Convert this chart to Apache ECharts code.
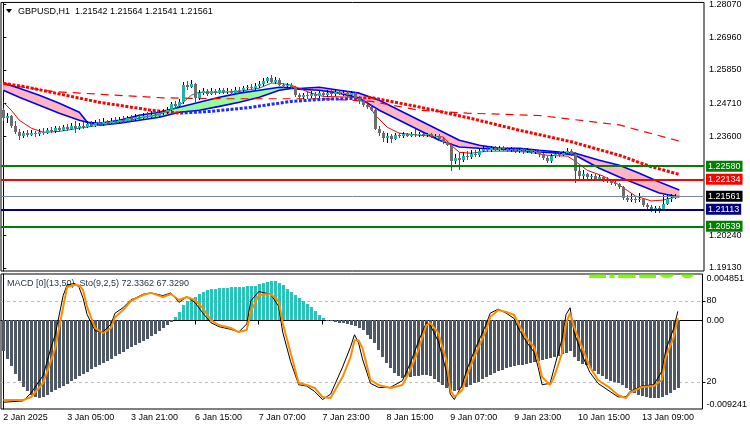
<!DOCTYPE html>
<html>
<head>
<meta charset="utf-8">
<script src="https://cdn.jsdelivr.net/npm/echarts@6/dist/echarts.min.js"></script>
<style>
  html, body { margin: 0; padding: 0; background: #fff; }
  #chart { width: 750px; height: 430px; }
</style>
</head>
<body>
<div id="chart"></div>
<script>
// ---- data ----
const timeLabels = ['2 Jan 2025', '3 Jan 05:00', '3 Jan 21:00', '6 Jan 15:00', '7 Jan 07:00', '7 Jan 23:00',
  '8 Jan 15:00', '9 Jan 07:00', '9 Jan 23:00', '10 Jan 15:00', '13 Jan 09:00']
const tickBars = [0, 16, 32, 48, 64, 80, 96, 112, 128, 144, 160]
const priceTicks = [1.28070, 1.26960, 1.25850, 1.24710, 1.23600, 1.20240, 1.19130]
const macdTicks = [-0.009241, 0, 0.004851]
const stochLevels = [20, 80]

// OHLC per hourly bar
const candles = [
  [1.2448, 1.2455, 1.2410, 1.2420], [1.2420, 1.2440, 1.2405, 1.2428], [1.2428, 1.2432, 1.2388, 1.2395], [1.2395, 1.2410, 1.2368, 1.2375],
  [1.2375, 1.2385, 1.2346, 1.2362], [1.2362, 1.2378, 1.2355, 1.2370], [1.2370, 1.2380, 1.2358, 1.2365], [1.2365, 1.2382, 1.2360, 1.2372],
  [1.2372, 1.2378, 1.2358, 1.2366], [1.2366, 1.2384, 1.2360, 1.2374], [1.2374, 1.2386, 1.2364, 1.2370], [1.2370, 1.2388, 1.2366, 1.2380],
  [1.2380, 1.2392, 1.2370, 1.2376], [1.2376, 1.2395, 1.2372, 1.2386], [1.2386, 1.2396, 1.2374, 1.2382], [1.2382, 1.2398, 1.2378, 1.2390],
  [1.2390, 1.2400, 1.2376, 1.2385], [1.2385, 1.2406, 1.2380, 1.2394], [1.2394, 1.2410, 1.2372, 1.2388], [1.2388, 1.2404, 1.2382, 1.2396],
  [1.2396, 1.2408, 1.2384, 1.2392], [1.2392, 1.2410, 1.2388, 1.2400], [1.2400, 1.2412, 1.2390, 1.2396], [1.2396, 1.2414, 1.2392, 1.2404],
  [1.2404, 1.2418, 1.2394, 1.2400], [1.2400, 1.2420, 1.2396, 1.2408], [1.2408, 1.2416, 1.2398, 1.2404], [1.2404, 1.2422, 1.2400, 1.2412],
  [1.2412, 1.2424, 1.2402, 1.2408], [1.2408, 1.2426, 1.2404, 1.2416], [1.2416, 1.2428, 1.2406, 1.2412], [1.2412, 1.2430, 1.2408, 1.2420],
  [1.2420, 1.2432, 1.2410, 1.2417], [1.2417, 1.2434, 1.2412, 1.2424], [1.2424, 1.2436, 1.2414, 1.2420], [1.2420, 1.2440, 1.2416, 1.2428],
  [1.2428, 1.2442, 1.2420, 1.2425], [1.2425, 1.2444, 1.2422, 1.2433], [1.2433, 1.2446, 1.2424, 1.2430], [1.2430, 1.2448, 1.2426, 1.2438],
  [1.2438, 1.2452, 1.2432, 1.2442], [1.2442, 1.2458, 1.2436, 1.2448], [1.2448, 1.2476, 1.2444, 1.2470], [1.2470, 1.2480, 1.2455, 1.2462],
  [1.2462, 1.2485, 1.2458, 1.2475], [1.2475, 1.2545, 1.2470, 1.2535], [1.2535, 1.2548, 1.2518, 1.2528], [1.2528, 1.2550, 1.2522, 1.2536],
  [1.2536, 1.2540, 1.2475, 1.2490], [1.2490, 1.2515, 1.2484, 1.2508], [1.2508, 1.2525, 1.2500, 1.2514], [1.2514, 1.2520, 1.2495, 1.2504],
  [1.2504, 1.2522, 1.2498, 1.2512], [1.2512, 1.2520, 1.2500, 1.2508], [1.2508, 1.2524, 1.2503, 1.2515], [1.2515, 1.2522, 1.2502, 1.2510],
  [1.2510, 1.2524, 1.2504, 1.2514], [1.2514, 1.2520, 1.2500, 1.2508], [1.2508, 1.2526, 1.2504, 1.2518], [1.2518, 1.2528, 1.2508, 1.2515],
  [1.2515, 1.2530, 1.2510, 1.2522], [1.2522, 1.2535, 1.2516, 1.2526], [1.2526, 1.2536, 1.2516, 1.2522], [1.2522, 1.2540, 1.2518, 1.2530],
  [1.2530, 1.2546, 1.2525, 1.2536], [1.2536, 1.2556, 1.2530, 1.2548], [1.2548, 1.2562, 1.2540, 1.2556], [1.2556, 1.2569, 1.2540, 1.2545],
  [1.2545, 1.2560, 1.2538, 1.2552], [1.2552, 1.2556, 1.2530, 1.2535], [1.2535, 1.2542, 1.2524, 1.2530], [1.2530, 1.2540, 1.2522, 1.2535],
  [1.2535, 1.2540, 1.2520, 1.2528], [1.2528, 1.2530, 1.2492, 1.2498], [1.2498, 1.2506, 1.2484, 1.2492], [1.2492, 1.2508, 1.2486, 1.2500],
  [1.2500, 1.2510, 1.2486, 1.2495], [1.2495, 1.2512, 1.2488, 1.2502], [1.2502, 1.2510, 1.2488, 1.2496], [1.2496, 1.2514, 1.2490, 1.2505],
  [1.2505, 1.2516, 1.2492, 1.2500], [1.2500, 1.2518, 1.2494, 1.2508], [1.2508, 1.2516, 1.2495, 1.2502], [1.2502, 1.2520, 1.2496, 1.2510],
  [1.2510, 1.2518, 1.2498, 1.2504], [1.2504, 1.2516, 1.2496, 1.2508], [1.2508, 1.2514, 1.2494, 1.2500], [1.2500, 1.2512, 1.2495, 1.2505],
  [1.2505, 1.2510, 1.2485, 1.2490], [1.2490, 1.2495, 1.2470, 1.2478], [1.2478, 1.2482, 1.2460, 1.2465], [1.2465, 1.2472, 1.2452, 1.2458],
  [1.2458, 1.2465, 1.2446, 1.2450], [1.2450, 1.2455, 1.2380, 1.2385], [1.2385, 1.2395, 1.2360, 1.2370], [1.2370, 1.2378, 1.2340, 1.2352],
  [1.2352, 1.2370, 1.2338, 1.2362], [1.2362, 1.2368, 1.2335, 1.2350], [1.2350, 1.2372, 1.2346, 1.2365], [1.2365, 1.2372, 1.2352, 1.2360],
  [1.2360, 1.2375, 1.2355, 1.2366], [1.2366, 1.2372, 1.2356, 1.2362], [1.2362, 1.2374, 1.2358, 1.2366], [1.2366, 1.2385, 1.2357, 1.2363],
  [1.2363, 1.2373, 1.2358, 1.2367], [1.2367, 1.2372, 1.2358, 1.2364], [1.2364, 1.2372, 1.2358, 1.2366], [1.2366, 1.2370, 1.2354, 1.2360],
  [1.2360, 1.2368, 1.2352, 1.2362], [1.2362, 1.2366, 1.2345, 1.2350], [1.2350, 1.2356, 1.2334, 1.2340], [1.2340, 1.2345, 1.2325, 1.2330],
  [1.2330, 1.2335, 1.2240, 1.2275], [1.2275, 1.2300, 1.2265, 1.2285], [1.2285, 1.2305, 1.2245, 1.2280], [1.2280, 1.2305, 1.2272, 1.2292],
  [1.2292, 1.2308, 1.2278, 1.2288], [1.2288, 1.2312, 1.2282, 1.2300], [1.2300, 1.2312, 1.2288, 1.2296], [1.2296, 1.2318, 1.2290, 1.2310],
  [1.2310, 1.2325, 1.2305, 1.2316], [1.2316, 1.2324, 1.2305, 1.2312], [1.2312, 1.2326, 1.2306, 1.2318], [1.2318, 1.2326, 1.2308, 1.2314],
  [1.2314, 1.2328, 1.2308, 1.2320], [1.2320, 1.2326, 1.2309, 1.2316], [1.2316, 1.2322, 1.2305, 1.2312], [1.2312, 1.2322, 1.2306, 1.2315],
  [1.2315, 1.2320, 1.2303, 1.2310], [1.2310, 1.2320, 1.2304, 1.2314], [1.2314, 1.2318, 1.2300, 1.2308], [1.2308, 1.2318, 1.2302, 1.2312],
  [1.2312, 1.2316, 1.2298, 1.2305], [1.2305, 1.2314, 1.2298, 1.2308], [1.2308, 1.2312, 1.2290, 1.2298], [1.2298, 1.2302, 1.2278, 1.2285],
  [1.2285, 1.2292, 1.2270, 1.2275], [1.2275, 1.2298, 1.2270, 1.2292], [1.2292, 1.2308, 1.2286, 1.2300], [1.2300, 1.2308, 1.2290, 1.2296],
  [1.2296, 1.2310, 1.2292, 1.2302], [1.2302, 1.2318, 1.2298, 1.2310], [1.2310, 1.2316, 1.2294, 1.2300], [1.2300, 1.2305, 1.2200, 1.2240],
  [1.2240, 1.2255, 1.2215, 1.2225], [1.2225, 1.2245, 1.2212, 1.2230], [1.2230, 1.2236, 1.2210, 1.2220], [1.2220, 1.2232, 1.2212, 1.2224],
  [1.2224, 1.2230, 1.2210, 1.2216], [1.2216, 1.2228, 1.2208, 1.2220], [1.2220, 1.2226, 1.2205, 1.2212], [1.2212, 1.2220, 1.2200, 1.2208],
  [1.2208, 1.2214, 1.2194, 1.2200], [1.2200, 1.2206, 1.2190, 1.2196], [1.2196, 1.2202, 1.2182, 1.2188], [1.2188, 1.2192, 1.2142, 1.2150],
  [1.2150, 1.2160, 1.2136, 1.2144], [1.2144, 1.2165, 1.2138, 1.2148], [1.2148, 1.2156, 1.2134, 1.2142], [1.2142, 1.2168, 1.2136, 1.2146],
  [1.2146, 1.2150, 1.2118, 1.2125], [1.2125, 1.2132, 1.2110, 1.2118], [1.2118, 1.2126, 1.2102, 1.2112], [1.2112, 1.2124, 1.2100, 1.2116],
  [1.2116, 1.2122, 1.2100, 1.2110], [1.2110, 1.2160, 1.2106, 1.2130], [1.2130, 1.2165, 1.2125, 1.2145], [1.2145, 1.2162, 1.2138, 1.2150],
  [1.2150, 1.2165, 1.2146, 1.2154], [1.21542, 1.21564, 1.21541, 1.21561]
]

// moving-average channel (blue lines, pink/green fill)
const bandBars = [0, 4, 9, 14, 19, 21, 24, 29, 34, 39, 44, 49, 54, 59, 64, 69, 72, 74, 79, 84, 89, 94, 99, 104, 109, 114, 119, 124, 129, 134, 139, 143, 149, 154, 159, 164, 169]
const bandFast = [1.2516, 1.2492, 1.2465, 1.2438, 1.2414, 1.2407, 1.2404, 1.2414, 1.2431, 1.2441, 1.2458, 1.2475, 1.2492, 1.2506, 1.2516, 1.2526, 1.2524, 1.2519, 1.2516, 1.2506,
  1.2489, 1.2448, 1.2414, 1.2380, 1.2346, 1.2323, 1.2319, 1.2316, 1.2312, 1.2306, 1.2302, 1.2295, 1.2251, 1.2221, 1.2194, 1.2167, 1.2153]
const bandSlow = [1.2540, 1.2523, 1.2499, 1.2472, 1.2441, 1.2407, 1.2397, 1.2404, 1.2414, 1.2424, 1.2441, 1.2448, 1.2461, 1.2475, 1.2492, 1.2516, 1.2522, 1.2522, 1.2526, 1.2516,
  1.2506, 1.2482, 1.2448, 1.2414, 1.2380, 1.2346, 1.2329, 1.2319, 1.2319, 1.2312, 1.2306, 1.2302, 1.2278, 1.2261, 1.2234, 1.2204, 1.2177]

// dotted trend MA (red above price / blue below)
const dotBars = [0, 5, 12, 24, 37, 44, 52, 62, 72, 80, 88, 92, 104, 117, 129, 142, 154, 162, 169]
const dotMa = [1.2539, 1.2529, 1.2509, 1.2475, 1.2448, 1.2438, 1.2444, 1.2458, 1.2478, 1.2485, 1.2488, 1.2491, 1.2459, 1.2420, 1.2380, 1.2341, 1.2295, 1.2256, 1.2230]

// long dashed MA
const longBars = [0, 12, 28, 40, 55, 72, 80, 92, 104, 116, 134, 154, 169]
const longMa = [1.2536, 1.2512, 1.2499, 1.2490, 1.2487, 1.2487, 1.2487, 1.2478, 1.2448, 1.2438, 1.2430, 1.2398, 1.2343]

// short MA (red falling / teal rising)
const thinBars = [0, 2, 4, 7, 10, 14, 19, 24, 29, 34, 39, 43, 45, 47, 49, 54, 59, 64, 67, 69, 72, 77, 80, 88, 89, 91, 93, 96, 99, 104,
  110, 112, 114, 117, 121, 126, 131, 136, 141, 143, 146, 150, 154, 158, 162, 165, 169]
const thinMa = [1.2475, 1.2448, 1.2414, 1.2387, 1.2373, 1.2376, 1.2387, 1.2397, 1.2407, 1.2421, 1.2434, 1.2455, 1.2475, 1.2499, 1.2509, 1.2509, 1.2512, 1.2523, 1.2540, 1.2540,
  1.2533, 1.2506, 1.2495, 1.2492, 1.2482, 1.2472, 1.2431, 1.2390, 1.2370, 1.2363, 1.2357, 1.2329, 1.2305, 1.2302, 1.2309, 1.2309, 1.2306, 1.2295, 1.2292, 1.2275,
  1.2244, 1.2224, 1.2194, 1.2157, 1.2140, 1.2143, 1.2157]

// price levels
const levelNames = ['1.22580', '1.22134', '1.21561', '1.21113', '1.20539']
const levelValues = [1.22580, 1.22134, 1.21561, 1.21113, 1.20539]

// MACD histogram, one value per bar
const macdHist = [
  -0.0032, -0.0040, -0.0048, -0.0056, -0.0063, -0.0069, -0.0074, -0.0078, -0.0080, -0.0081,
  -0.0080, -0.0078, -0.0075, -0.0073, -0.0070, -0.0068, -0.0066, -0.0063, -0.0061, -0.0058,
  -0.0056, -0.0054, -0.0051, -0.0049, -0.0047, -0.0044, -0.0042, -0.0040, -0.0037, -0.0035,
  -0.0033, -0.0030, -0.0028, -0.0026, -0.0023, -0.0021, -0.0019, -0.0016, -0.0014, -0.0011,
  -0.0008, -0.0005, -0.0002, 0.0004, 0.0009, 0.0016, 0.0020, 0.0023, 0.0025, 0.0028,
  0.0030, 0.0032, 0.0033, 0.0033, 0.0034, 0.0034, 0.0034, 0.0035, 0.0035, 0.0035,
  0.0035, 0.0036, 0.0036, 0.0036, 0.0038, 0.0039, 0.0040, 0.0041, 0.0041, 0.0039,
  0.0037, 0.0033, 0.0030, 0.0027, 0.0023, 0.0020, 0.0017, 0.0014, 0.0010, 0.0006,
  0.0003, -0.0001, -0.0001, -0.0002, -0.0003, -0.0003, -0.0004, -0.0005, -0.0006, -0.0008,
  -0.0010, -0.0015, -0.0019, -0.0024, -0.0031, -0.0038, -0.0044, -0.0050, -0.0055, -0.0058,
  -0.0060, -0.0059, -0.0059, -0.0058, -0.0058, -0.0057, -0.0057, -0.0058, -0.0061, -0.0064,
  -0.0067, -0.0070, -0.0073, -0.0074, -0.0073, -0.0071, -0.0069, -0.0067, -0.0065, -0.0064,
  -0.0061, -0.0059, -0.0057, -0.0055, -0.0053, -0.0052, -0.0050, -0.0049, -0.0048, -0.0047,
  -0.0046, -0.0045, -0.0044, -0.0043, -0.0042, -0.0041, -0.0040, -0.0039, -0.0038, -0.0037,
  -0.0035, -0.0034, -0.0032, -0.0038, -0.0042, -0.0045, -0.0047, -0.0050, -0.0053, -0.0056,
  -0.0058, -0.0061, -0.0063, -0.0064, -0.0065, -0.0067, -0.0070, -0.0073, -0.0076, -0.0078,
  -0.0079, -0.0080, -0.0081, -0.0081, -0.0081, -0.0080, -0.0078, -0.0076, -0.0073, -0.0070
]

// stochastic (9,2,5): signal (orange) and main (black)
const stochBars = [0, 5, 7, 10, 12, 13, 15, 16, 18, 19, 20, 21, 23, 25, 27, 28, 30, 32, 33, 35, 37, 40, 42, 44, 46, 48, 50, 52, 54, 57,
  59, 61, 62, 64, 67, 69, 70, 72, 74, 76, 78, 80, 82, 85, 87, 88, 89, 90, 92, 94, 97, 100, 102, 104, 106, 107, 109, 111, 112, 113,
  115, 116, 118, 121, 122, 124, 126, 128, 129, 131, 133, 134, 135, 137, 138, 140, 141, 142, 143, 145, 147, 149, 152, 154, 156, 157, 160, 163, 165, 166,
  168, 169]
const stochSignal = [6.7, 6.7, 8.9, 19.3, 36, 45, 75.6, 90.4, 92, 91.5, 88, 75.6, 60, 56.3, 60, 68, 73.3, 80, 81.5, 84.4, 86, 83, 85.2, 80.7, 83, 80.7, 74.8, 65.9, 62.2, 60,
  57, 58.5, 72, 84.4, 85.2, 80, 63.7, 41.5, 19.3, 17.8, 15.6, 8.9, 8.1, 23.7, 38.5, 51, 51, 45, 21.5, 17.8, 15.6, 17.8, 28.9, 43.7, 62.2, 63.7, 56.3, 36.3, 14.1, 8.9,
  14.1, 23.7, 38.5, 58.5, 68.1, 73.3, 71.9, 69.6, 63.7, 52.6, 45.9, 36.3, 23.7, 17.8, 23.7, 41.5, 63.7, 71.1, 60.7, 45.9, 31.1, 21.5, 15.6, 10.4, 8.1, 11.9, 16.3, 17, 21.5, 38.5,
  53.3, 67.329]
const stochMain = [5, 6, 12, 25, 46, 55, 84, 92, 93, 90, 82, 70, 58, 57, 63, 71, 75, 81, 82, 85, 86, 84, 86, 79, 83, 79, 71, 64, 61, 59,
  57, 63, 80, 87, 85, 76, 57, 35, 18, 17, 13, 7, 11, 31, 46, 55, 49, 37, 19, 16, 16, 21, 34, 50, 64, 62, 50, 28, 11, 7,
  18, 28, 43, 63, 71, 74, 71, 67, 60, 50, 42, 31, 18, 19, 30, 52, 70, 75, 57, 40, 27, 19, 13, 9, 9, 13, 17, 18, 28, 44,
  60, 72.336]

const FONT = 'Liberation Sans'
const BULL_BODY = '#20b2aa', BULL_WICK = '#000000'
const BEAR_BODY = '#6e6e6e', BEAR_WICK = '#b0203c'
const levelColors = ['#008000', '#ff0000', '#778899', '#000080', '#008000']
const levelLabelBg = ['#008000', '#ff0000', '#000000', '#000080', '#008000']

const chart = echarts.init(document.getElementById('chart'))

const bandRows = bandBars.map((b, k) => [b, bandFast[k], bandSlow[k]])
const pairs = (xs, ys) => xs.map((x, k) => [x, ys[k]])

const xBase = { type: 'value', min: -0.575, max: 175.175 }

chart.setOption({
  animation: false,
  textStyle: { fontFamily: FONT },
  grid: [
    { left: 1, right: 46, top: 2, height: 269, show: true, borderColor: '#000', borderWidth: 1 },
    { left: 1, right: 46, top: 274, height: 135, show: true, borderColor: '#000', borderWidth: 1 }
  ],
  xAxis: [
    { ...xBase, gridIndex: 0, show: false },
    {
      ...xBase, gridIndex: 1,
      axisLine: { show: true, lineStyle: { color: '#000' } },
      splitLine: { show: false },
      axisTick: { show: true, customValues: tickBars, length: 4, lineStyle: { color: '#000' } },
      axisLabel: {
        customValues: tickBars, align: 'left', margin: 4, fontSize: 9, fontFamily: FONT, color: '#000',
        formatter: v => timeLabels[tickBars.indexOf(Math.round(v))]
      }
    }
  ],
  yAxis: [
    {
      gridIndex: 0, type: 'value', position: 'right', min: 1.1902, max: 1.2814,
      axisLine: { show: true, lineStyle: { color: '#000' } },
      splitLine: { show: false },
      axisTick: { show: true, customValues: priceTicks, length: 3, lineStyle: { color: '#000' } },
      axisLabel: { customValues: priceTicks, margin: 5, fontSize: 9, fontFamily: FONT, color: '#000', formatter: v => v.toFixed(5) }
    },
    {
      gridIndex: 1, type: 'value', position: 'right', min: -0.009241, max: 0.004851,
      axisLine: { show: true, lineStyle: { color: '#000' } },
      axisTick: { show: true, customValues: [0], length: 3, lineStyle: { color: '#000' } },
      splitLine: { show: true, lineStyle: { color: '#808080', type: [3, 3] } },
      axisLabel: {
        customValues: macdTicks, margin: 4, fontSize: 9, fontFamily: FONT, color: '#000',
        verticalAlignMinLabel: 'bottom', verticalAlignMaxLabel: 'top',
        formatter: v => (v === 0 ? '0.00' : v.toFixed(6))
      }
    },
    {
      gridIndex: 1, type: 'value', position: 'right', min: 0, max: 100,
      axisLine: { show: false },
      axisTick: { show: true, customValues: stochLevels, length: 3, lineStyle: { color: '#000' } },
      splitLine: { show: true, lineStyle: { color: '#bdbdbd', type: [3, 3] } },
      axisLabel: { customValues: stochLevels, margin: 4, fontSize: 9, fontFamily: FONT, color: '#000' }
    }
  ],
  visualMap: [
    {
      show: false, type: 'piecewise', seriesIndex: 4, dimension: 0,
      pieces: [{ lt: 44.5, color: '#ff0000' }, { gte: 44.5, lt: 90, color: '#1f2cff' }, { gte: 90, color: '#ff0000' }]
    },
    {
      show: false, type: 'piecewise', seriesIndex: 5, dimension: 0,
      pieces: [{ lt: 14, color: '#ff0000' }, { gte: 14, lt: 72, color: '#008080' }, { gte: 72, lt: 117, color: '#ff0000' },
        { gte: 117, lt: 134, color: '#008080' }, { gte: 134, lt: 165, color: '#ff0000' }, { gte: 165, color: '#008080' }]
    }
  ],
  graphic: [
    { type: 'polygon', left: 6, top: 9, shape: { points: [[0, 0], [6, 0], [3, 4]] }, style: { fill: '#000' } },
    { type: 'text', left: 18, top: 7, style: { text: 'GBPUSD,H1  1.21542 1.21564 1.21541 1.21561', font: '9px "Liberation Sans"', fill: '#000' } },
    { type: 'text', left: 7, top: 279, style: { text: 'MACD [0](13,50)  Sto(9,2,5) 72.3362 67.3290', font: '9px "Liberation Sans"', fill: '#26364a' } },
    // big price readout: only its lowest sliver peeks into the indicator window
    {
      type: 'group', x: 587, y: 274.5,
      children: [{
        type: 'text',
        style: { text: '1.2156', font: 'bold 36px "Liberation Sans"', fill: '#7cfc00', x: 0, y: -6.5, verticalAlign: 'middle' },
        clipPath: { type: 'rect', shape: { x: 0, y: 0, width: 116, height: 5 } }
      }]
    }
  ],
  series: [
    {
      // 0: channel fill
      type: 'custom', xAxisIndex: 0, yAxisIndex: 0, silent: true, z: 1,
      data: bandRows, encode: { x: 0, y: [1, 2] },
      renderItem(params, api) {
        const k = params.dataIndex
        if (k >= bandRows.length - 1) return null
        const [b0, f0, s0] = bandRows[k]
        const [b1, f1, s1] = bandRows[k + 1]
        const d0 = f0 - s0, d1 = f1 - s1
        const col = d => (d > 0 ? '#98fb98' : '#ffb6c1')
        const quad = (xa, fa, sa, xb, fb, sb, c) => ({
          type: 'polygon',
          shape: { points: [api.coord([xa, fa]), api.coord([xb, fb]), api.coord([xb, sb]), api.coord([xa, sa])] },
          style: { fill: c, stroke: c, lineWidth: 0.6 }
        })
        if (d0 * d1 < 0) {
          const t = d0 / (d0 - d1)
          const xm = b0 + t * (b1 - b0), vm = f0 + t * (f1 - f0)
          return { type: 'group', children: [quad(b0, f0, s0, xm, vm, vm, col(d0)), quad(xm, vm, vm, b1, f1, s1, col(d1))] }
        }
        return quad(b0, f0, s0, b1, f1, s1, col(d0 + d1))
      }
    },
    // 1, 2: channel lines
    { type: 'line', xAxisIndex: 0, yAxisIndex: 0, data: pairs(bandBars, bandSlow), showSymbol: false, silent: true, z: 2, lineStyle: { color: '#0000ff', width: 1.6 } },
    { type: 'line', xAxisIndex: 0, yAxisIndex: 0, data: pairs(bandBars, bandFast), showSymbol: false, silent: true, z: 2, lineStyle: { color: '#0000ff', width: 1.6 } },
    {
      // 3: long dashed MA + horizontal levels
      type: 'line', xAxisIndex: 0, yAxisIndex: 0, data: pairs(longBars, longMa), showSymbol: false, silent: true, z: 2,
      lineStyle: { color: '#ff0000', width: 1.2, type: [8, 6] },
      markLine: {
        silent: true, symbol: ['none', 'none'], animation: false, precision: 5,
        data: levelValues.map((v, k) => ({
          yAxis: v,
          lineStyle: { color: levelColors[k], width: k === 2 ? 1 : 2, type: 'solid' },
          label: {
            show: true, position: 'end', distance: 2, formatter: levelNames[k],
            color: '#fff', backgroundColor: levelLabelBg[k], padding: [1, 2, 0, 2],
            fontSize: 9, lineHeight: 10, fontFamily: FONT
          }
        }))
      }
    },
    // 4: dotted MA
    { type: 'line', xAxisIndex: 0, yAxisIndex: 0, data: pairs(dotBars, dotMa), showSymbol: false, silent: true, z: 2, lineStyle: { width: 3, type: [3, 1.6] } },
    // 5: short MA
    { type: 'line', xAxisIndex: 0, yAxisIndex: 0, data: pairs(thinBars, thinMa), showSymbol: false, silent: true, z: 2, lineStyle: { width: 1 } },
    {
      // 6: candles
      type: 'custom', xAxisIndex: 0, yAxisIndex: 0, silent: true, z: 4,
      data: candles.map((c, i) => [i, c[0], c[1], c[2], c[3]]),
      encode: { x: 0, y: [1, 2, 3, 4] },
      renderItem(params, api) {
        const i = api.value(0), o = api.value(1), h = api.value(2), l = api.value(3), c = api.value(4)
        const up = c >= o
        const pHi = api.coord([i, h]), pLo = api.coord([i, l])
        const pTop = api.coord([i, Math.max(o, c)]), pBot = api.coord([i, Math.min(o, c)])
        const cx = Math.round(pHi[0])
        const yh = Math.round(pHi[1]), yl = Math.round(pLo[1])
        const yt = Math.round(pTop[1])
        const yb = Math.max(Math.round(pBot[1]), yt + 1)
        return {
          type: 'group', children: [
            { type: 'rect', shape: { x: cx, y: yh, width: 1, height: Math.max(yl - yh, 1) }, style: { fill: up ? BULL_WICK : BEAR_WICK } },
            { type: 'rect', shape: { x: cx - 1, y: yt, width: 3, height: yb - yt }, style: { fill: up ? BULL_BODY : BEAR_BODY } }
          ]
        }
      }
    },
    {
      // 7: MACD histogram
      type: 'custom', xAxisIndex: 1, yAxisIndex: 1, silent: true, z: 2,
      data: macdHist.map((v, i) => [i, v]),
      encode: { x: 0, y: 1 },
      renderItem(params, api) {
        const i = api.value(0), v = api.value(1)
        const p0 = api.coord([i, 0]), p1 = api.coord([i, v])
        const cx = Math.round(p0[0])
        const y0 = Math.round(p0[1]), y1 = Math.round(p1[1])
        return {
          type: 'rect',
          shape: { x: cx - 1, y: Math.min(y0, y1), width: 3, height: Math.max(Math.abs(y1 - y0), 1) },
          style: { fill: v >= 0 ? '#27c4bc' : '#4f5966' }
        }
      }
    },
    // 8, 9: stochastic
    { type: 'line', xAxisIndex: 1, yAxisIndex: 2, data: pairs(stochBars, stochMain), showSymbol: false, silent: true, z: 3, lineStyle: { color: '#000', width: 1 } },
    { type: 'line', xAxisIndex: 1, yAxisIndex: 2, data: pairs(stochBars, stochSignal), showSymbol: false, silent: true, z: 3, lineStyle: { color: '#ff8c00', width: 2 } }
  ]
})

window.addEventListener('resize', () => chart.resize())
</script>
</body>
</html>
